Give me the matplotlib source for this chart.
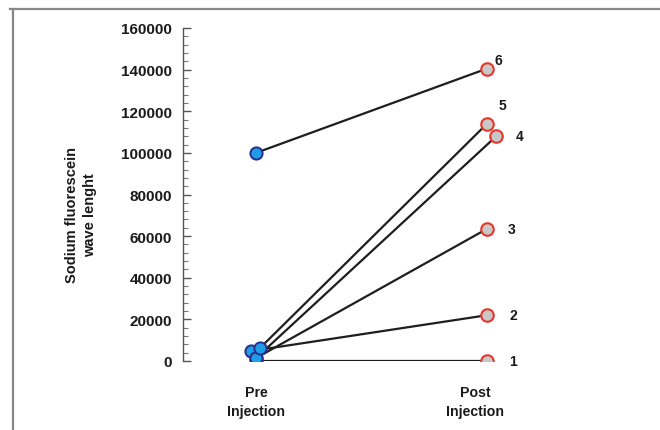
import matplotlib
matplotlib.use("Agg")
import matplotlib.pyplot as plt
from matplotlib.lines import Line2D
from matplotlib.ticker import MultipleLocator

plt.rcParams['font.family'] = ['Liberation Sans', 'DejaVu Sans']

# Data
subjects = ["1", "2", "3", "4", "5", "6"]
pre_values = [0, 4800, 1400, 1400, 6200, 100000]
post_values = [0, 22000, 63500, 108000, 114000, 140500]
categories = ["Pre\nInjection", "Post\nInjection"]

# small horizontal offsets so overlapping points are visible
pre_offset = [0.0, -0.02, 0.0, 0.0, 0.017, 0.0]
post_offset = [0.0, 0.0, 0.0, 0.04, 0.0, 0.0]
label_offsets = [(19, 0), (19, 0), (18, 0), (17, 0), (11, 13.5), (8, 6.5)]

fig = plt.figure(figsize=(6.6, 4.31), dpi=100)
ax = fig.add_axes([183/660, 69/431, (600-183)/660, 333/431])

for i in range(len(subjects)):
    x0 = 0 + pre_offset[i]
    x1 = 1 + post_offset[i]
    ax.plot([x0, x1], [pre_values[i], post_values[i]], color='#1e1e1e', lw=1.6, zorder=2)

for i in range(len(subjects)):
    ax.plot(0 + pre_offset[i], pre_values[i], 'o', ms=8.8,
            mfc='#1c9de6' if i != 0 else '#2f4fb0',
            mec='#2a2c8f', mew=1.4, zorder=3 if i != 0 else 2.5)
    ax.plot(1 + post_offset[i], post_values[i], 'o', ms=9, mfc='#c8c8c8',
            mec='#e8352c', mew=1.5, zorder=4)
    ax.annotate(subjects[i], (1 + post_offset[i], post_values[i]),
                xytext=label_offsets[i], textcoords='offset points',
                ha='center', va='center', fontsize=10, fontweight='bold',
                color='#1a1a1a')

ax.set_xlim(-73/231, (600-256)/231)
ax.set_ylim(0, 160000)
ax.yaxis.set_major_locator(MultipleLocator(20000))
ax.yaxis.set_minor_locator(MultipleLocator(4000))
ax.tick_params(axis='y', which='major', direction='in', length=6, width=1,
               color='#555555', pad=8, labelsize=11)
ax.tick_params(axis='y', which='minor', direction='in', length=3.5, width=0.8,
               color='#777777')
for lab in ax.get_yticklabels():
    lab.set_fontweight('bold')
    lab.set_color('#1a1a1a')

ax.set_xticks([0, 0.95])
ax.set_xticklabels(categories, fontsize=10.2, fontweight='bold', color='#1a1a1a',
                   linespacing=1.45)
ax.tick_params(axis='x', length=0, pad=17)

for s in ['top', 'right', 'bottom']:
    ax.spines[s].set_visible(False)
ax.spines['left'].set_color('#555555')
ax.spines['left'].set_linewidth(1)

ax.set_ylabel("Sodium fluorescein\nwave lenght", fontsize=10.5, fontweight='bold',
              color='#1a1a1a', linespacing=1.35)
ax.yaxis.set_label_coords(-0.206, 0.44)

# outer frame (partial)
fig.add_artist(Line2D([10/660, 1.0], [1 - 10/431, 1 - 10/431],
                      transform=fig.transFigure, color='#888888', lw=1.6))
fig.add_artist(Line2D([13/660, 13/660], [0, 1 - 10/431],
                      transform=fig.transFigure, color='#888888', lw=1.6))

fig.savefig("out.png", dpi=100)
